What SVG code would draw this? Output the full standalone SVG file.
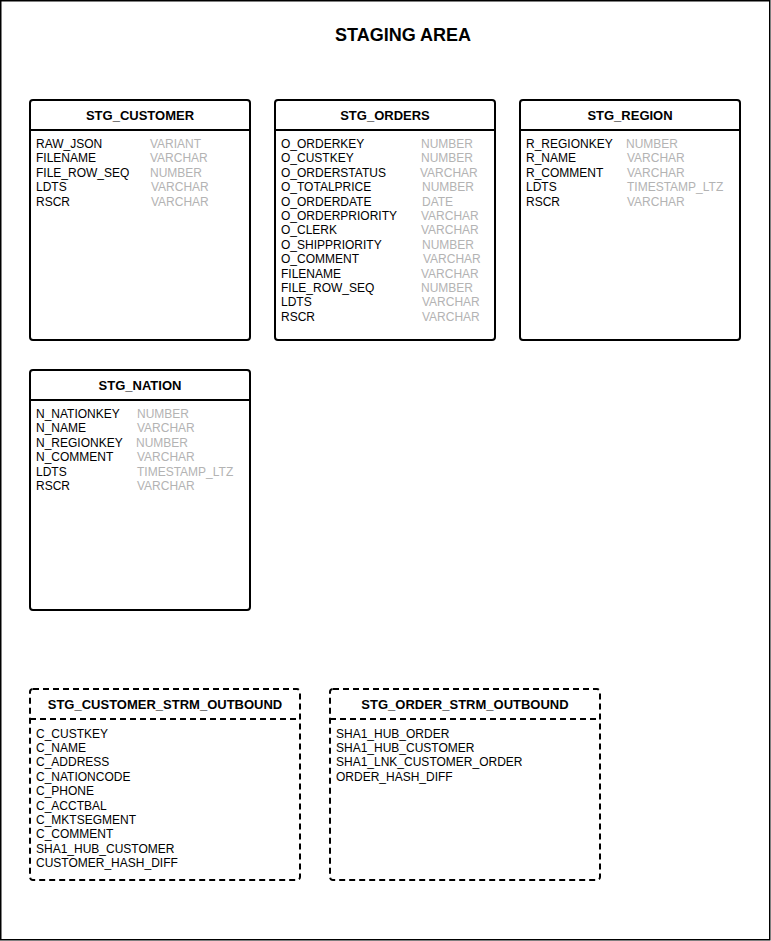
<svg xmlns="http://www.w3.org/2000/svg" width="771" height="941" viewBox="0 0 771 941">
<style>
.frame{fill:#fff;stroke:#000;stroke-width:1.5}
.box{fill:#fff;stroke:#000;stroke-width:2}
.dash{fill:#fff;stroke:#000;stroke-width:2;stroke-dasharray:6 4}
.sep{stroke:#000;stroke-width:2}
.sepd{stroke:#000;stroke-width:2;stroke-dasharray:6 4}
text{font-family:"Liberation Sans",Arial,sans-serif;font-size:12px}
.hd{font-weight:bold;font-size:13px;text-anchor:middle}
.title{font-weight:bold;font-size:18px;text-anchor:middle}
.f{fill:#000}
.t{fill:#b3b3b3}
</style>
<rect class="frame" x="0.75" y="0.75" width="769" height="939"/>
<text class="title" x="403" y="41">STAGING AREA</text>

<g id="stg_customer">
<rect class="box" x="30" y="100" width="220" height="240" rx="3"/>
<line class="sep" x1="30" y1="130" x2="250" y2="130"/>
<text class="hd" x="140" y="119.5">STG_CUSTOMER</text>
<text class="f" x="36" y="148">RAW_JSON</text><text class="t" x="150" y="148">VARIANT</text>
<text class="f" x="36" y="162.4">FILENAME</text><text class="t" x="150" y="162.4">VARCHAR</text>
<text class="f" x="36" y="176.8">FILE_ROW_SEQ</text><text class="t" x="150" y="176.8">NUMBER</text>
<text class="f" x="36" y="191.2">LDTS</text><text class="t" x="151" y="191.2">VARCHAR</text>
<text class="f" x="36" y="205.6">RSCR</text><text class="t" x="151" y="205.6">VARCHAR</text>
</g>

<g id="stg_orders">
<rect class="box" x="275" y="100" width="220" height="240" rx="3"/>
<line class="sep" x1="275" y1="130" x2="495" y2="130"/>
<text class="hd" x="385" y="119.5">STG_ORDERS</text>
<text class="f" x="281" y="148">O_ORDERKEY</text><text class="t" x="421" y="148">NUMBER</text>
<text class="f" x="281" y="162.4">O_CUSTKEY</text><text class="t" x="421" y="162.4">NUMBER</text>
<text class="f" x="281" y="176.8">O_ORDERSTATUS</text><text class="t" x="420" y="176.8">VARCHAR</text>
<text class="f" x="281" y="191.2">O_TOTALPRICE</text><text class="t" x="422" y="191.2">NUMBER</text>
<text class="f" x="281" y="205.6">O_ORDERDATE</text><text class="t" x="422" y="205.6">DATE</text>
<text class="f" x="281" y="220">O_ORDERPRIORITY</text><text class="t" x="421" y="220">VARCHAR</text>
<text class="f" x="281" y="234.4">O_CLERK</text><text class="t" x="421" y="234.4">VARCHAR</text>
<text class="f" x="281" y="248.8">O_SHIPPRIORITY</text><text class="t" x="422" y="248.8">NUMBER</text>
<text class="f" x="281" y="263.2">O_COMMENT</text><text class="t" x="423" y="263.2">VARCHAR</text>
<text class="f" x="281" y="277.6">FILENAME</text><text class="t" x="421" y="277.6">VARCHAR</text>
<text class="f" x="281" y="292">FILE_ROW_SEQ</text><text class="t" x="421" y="292">NUMBER</text>
<text class="f" x="281" y="306.4">LDTS</text><text class="t" x="422" y="306.4">VARCHAR</text>
<text class="f" x="281" y="320.8">RSCR</text><text class="t" x="422" y="320.8">VARCHAR</text>
</g>

<g id="stg_region">
<rect class="box" x="520" y="100" width="220" height="240" rx="3"/>
<line class="sep" x1="520" y1="130" x2="740" y2="130"/>
<text class="hd" x="630" y="119.5">STG_REGION</text>
<text class="f" x="526" y="148">R_REGIONKEY</text><text class="t" x="626" y="148">NUMBER</text>
<text class="f" x="526" y="162.4">R_NAME</text><text class="t" x="627" y="162.4">VARCHAR</text>
<text class="f" x="526" y="176.8">R_COMMENT</text><text class="t" x="627" y="176.8">VARCHAR</text>
<text class="f" x="526" y="191.2">LDTS</text><text class="t" x="627" y="191.2">TIMESTAMP_LTZ</text>
<text class="f" x="526" y="205.6">RSCR</text><text class="t" x="627" y="205.6">VARCHAR</text>
</g>

<g id="stg_nation">
<rect class="box" x="30" y="370" width="220" height="240" rx="3"/>
<line class="sep" x1="30" y1="400" x2="250" y2="400"/>
<text class="hd" x="140" y="389.5">STG_NATION</text>
<text class="f" x="36" y="418">N_NATIONKEY</text><text class="t" x="137" y="418">NUMBER</text>
<text class="f" x="36" y="432.4">N_NAME</text><text class="t" x="137" y="432.4">VARCHAR</text>
<text class="f" x="36" y="446.8">N_REGIONKEY</text><text class="t" x="136" y="446.8">NUMBER</text>
<text class="f" x="36" y="461.2">N_COMMENT</text><text class="t" x="137" y="461.2">VARCHAR</text>
<text class="f" x="36" y="475.6">LDTS</text><text class="t" x="137" y="475.6">TIMESTAMP_LTZ</text>
<text class="f" x="36" y="490">RSCR</text><text class="t" x="137" y="490">VARCHAR</text>
</g>

<g id="stg_customer_strm_outbound">
<rect class="dash" x="30" y="689" width="270" height="191" rx="3"/>
<line class="sepd" x1="30" y1="719" x2="300" y2="719"/>
<text class="hd" x="165" y="709">STG_CUSTOMER_STRM_OUTBOUND</text>
<text class="f" x="36" y="737.5">C_CUSTKEY</text>
<text class="f" x="36" y="751.9">C_NAME</text>
<text class="f" x="36" y="766.3">C_ADDRESS</text>
<text class="f" x="36" y="780.7">C_NATIONCODE</text>
<text class="f" x="36" y="795.1">C_PHONE</text>
<text class="f" x="36" y="809.5">C_ACCTBAL</text>
<text class="f" x="36" y="823.9">C_MKTSEGMENT</text>
<text class="f" x="36" y="838.3">C_COMMENT</text>
<text class="f" x="36" y="852.7">SHA1_HUB_CUSTOMER</text>
<text class="f" x="36" y="867.1">CUSTOMER_HASH_DIFF</text>
</g>

<g id="stg_order_strm_outbound">
<rect class="dash" x="330" y="689" width="270" height="191" rx="3"/>
<line class="sepd" x1="330" y1="719" x2="600" y2="719"/>
<text class="hd" x="465" y="709">STG_ORDER_STRM_OUTBOUND</text>
<text class="f" x="336" y="737.5">SHA1_HUB_ORDER</text>
<text class="f" x="336" y="751.9">SHA1_HUB_CUSTOMER</text>
<text class="f" x="336" y="766.3">SHA1_LNK_CUSTOMER_ORDER</text>
<text class="f" x="336" y="780.7">ORDER_HASH_DIFF</text>
</g>

<g id="connectors"/>
</svg>
